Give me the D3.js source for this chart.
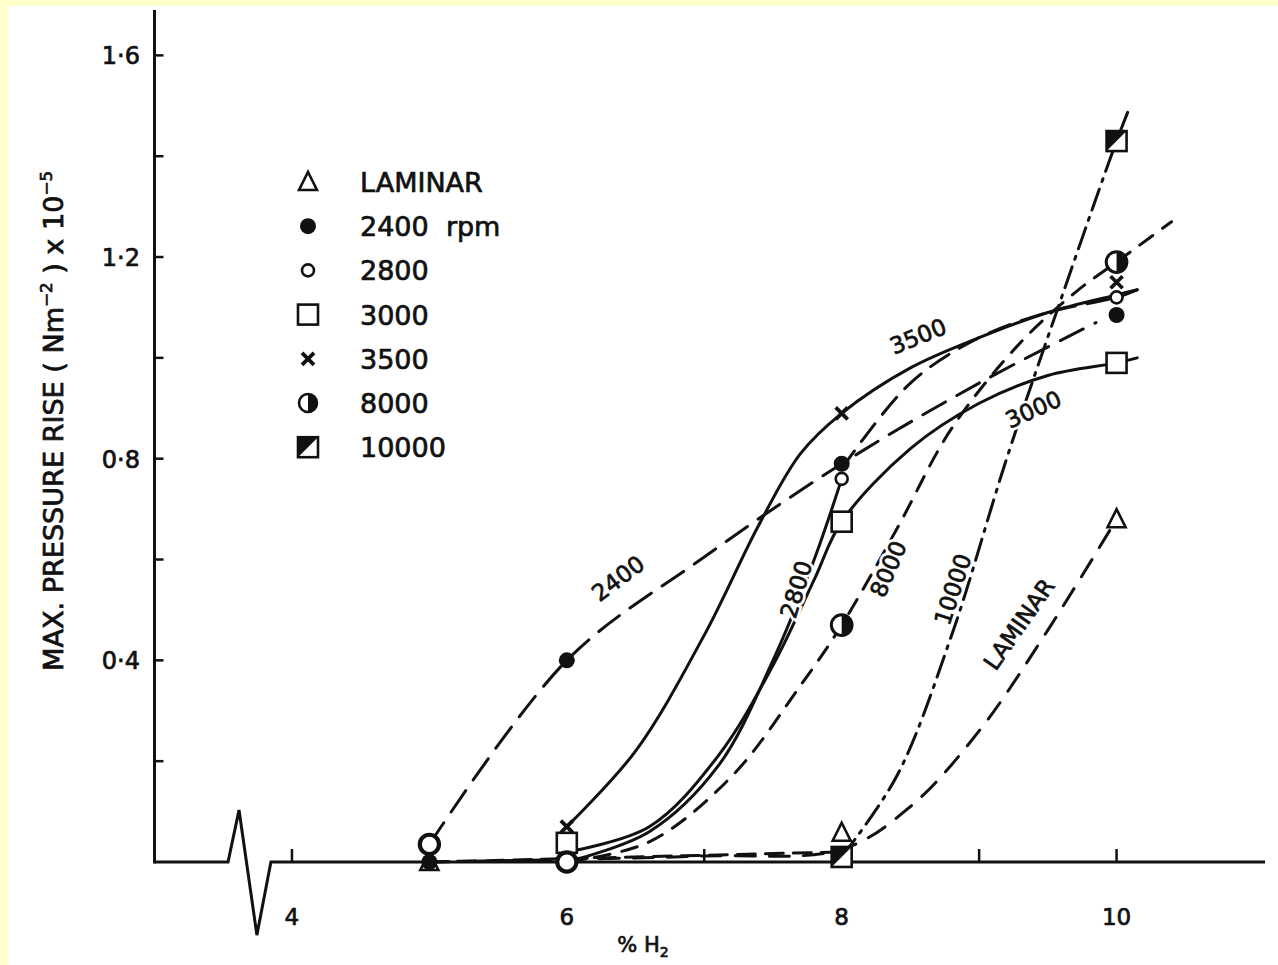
<!DOCTYPE html>
<html><head><meta charset="utf-8">
<script src="https://cdn.jsdelivr.net/npm/d3@7"></script>
<style>html,body{margin:0;padding:0;background:#fff}svg{display:block}</style>
</head><body>
<svg id="c" width="1278" height="965"></svg>
<script>
// ---- data ----
const xTicksMajor = [4, 6, 8, 10];
const xTicksMinor = [7, 9];
const yTicksMajor = [0.4, 0.8, 1.2, 1.6];
const yTicksMinor = [0.2, 0.6, 1.0, 1.4];
const yTickLabels = ["0·4", "0·8", "1·2", "1·6"];
const legendNames = ["LAMINAR", "2400  rpm", "2800", "3000", "3500", "8000", "10000"];
const legendMarkers = ["tri", "dot", "ring", "sq", "x", "half", "hsq"];

// measured points  [ %H2, pressure rise ]
const ptsLaminar = [[5, 0.0], [8, 0.058], [10, 0.68]];
const pts2400 = [[5, 0.0], [6, 0.40], [8, 0.79], [10, 1.085]];
const pts2800 = [[5, 0.035], [6, 0.0], [8, 0.76], [10, 1.12]];
const pts3000 = [[6, 0.038], [8, 0.675], [10, 0.99]];
const pts3500 = [[6, 0.07], [8, 0.89], [10, 1.15]];
const pts8000 = [[8, 0.47], [10, 1.19]];
const pts10000 = [[8, 0.01], [10, 1.43]];

// hand-drawn fitted curves
const curve2400 = [[5, 0.035], [6, 0.40], [7, 0.605], [8, 0.79], [9, 0.95], [9.85, 1.07]];
const curve2800a = [[6, 0.0], [6.6, 0.06], [7.1, 0.19], [7.5, 0.40], [7.8, 0.60], [8, 0.76]];
const curve2800b = [[8, 0.78], [8.5, 0.95], [9, 1.04], [9.5, 1.09], [10, 1.12], [10.15, 1.135]];
const curve3000 = [[6, 0.02], [6.6, 0.07], [7.1, 0.21], [7.5, 0.39], [7.8, 0.56], [8, 0.675], [8.5, 0.82], [9, 0.91], [9.5, 0.965], [10, 0.99], [10.15, 1.0]];
const curve3500 = [[6, 0.07], [6.5, 0.22], [7, 0.45], [7.4, 0.67], [7.7, 0.81], [8, 0.89], [8.5, 0.98], [9, 1.04], [9.5, 1.09], [10, 1.125], [10.15, 1.135]];
const curve8000 = [[6, 0.0], [6.6, 0.04], [7.2, 0.17], [7.7, 0.35], [8, 0.47], [8.4, 0.66], [8.8, 0.86], [9.3, 1.03], [9.7, 1.13], [10, 1.19], [10.4, 1.27]];
const curve10000 = [[8, 0.01], [8.4, 0.17], [8.8, 0.45], [9.2, 0.80], [9.6, 1.12], [10, 1.43], [10.1, 1.50]];
const curveLaminar = [[5, 0.0], [6, 0.005], [7, 0.012], [8, 0.025], [8.5, 0.11], [9, 0.26], [9.5, 0.46], [10, 0.68]];
const baseDash = [[5, 0.0], [8, 0.02]];

// curve labels  [text, x, y, angle]
const curveLabels = [
  ["2400", 6.38, 0.56, -37],
  ["3500", 8.56, 1.04, -22],
  ["3000", 9.4, 0.895, -24],
  ["2800", 7.68, 0.54, -73],
  ["8000", 8.35, 0.58, -67],
  ["10000", 8.82, 0.54, -72],
  ["LAMINAR", 9.3, 0.47, -55]
];

// ---- drawing ----
const svg = d3.select("#c");
svg.append("rect").attr("width", 1278).attr("height", 965).attr("fill", "#ffffcc");
svg.append("rect").attr("x", 8).attr("y", 6).attr("width", 1270).attr("height", 959).attr("fill", "#fff");

const x = d3.scaleLinear().domain([3, 11.08]).range([154.5, 1265]);
const y = d3.scaleLinear().domain([0, 1.69]).range([862, 10]);
const ink = "#111";
const font = "'DejaVu Sans', sans-serif";
const cond = "'DejaVu Sans Condensed','DejaVu Sans',sans-serif";

const g = svg.append("g");
function txt(sel) { return sel.attr("fill", ink).attr("stroke", ink).attr("stroke-width", 0.7); }
// axes
g.append("line").attr("x1", x(3)).attr("x2", x(3)).attr("y1", y(1.69)).attr("y2", y(0) + 1.5)
  .attr("stroke", ink).attr("stroke-width", 3);
const zig = [[3, 0], [3.535, 0], [3.615, 0.103], [3.745, -0.145], [3.847, 0], [11.08, 0]];
g.append("path").attr("d", d3.line().x(d => x(d[0])).y(d => y(d[1]))(zig))
  .attr("fill", "none").attr("stroke", ink).attr("stroke-width", 3).attr("stroke-linejoin", "miter");

yTicksMajor.concat(yTicksMinor).forEach(v => {
  g.append("line").attr("x1", x(3)).attr("x2", x(3) + 9).attr("y1", y(v)).attr("y2", y(v))
    .attr("stroke", ink).attr("stroke-width", 2.5);
});
yTicksMajor.forEach((v, i) => {
  txt(g.append("text").attr("x", 140).attr("y", y(v) + 9).attr("text-anchor", "end")
    .attr("font-family", font).attr("font-size", 24)).text(yTickLabels[i]);
});
xTicksMajor.concat(xTicksMinor).forEach(v => {
  g.append("line").attr("x1", x(v)).attr("x2", x(v)).attr("y1", y(0)).attr("y2", y(0) - 13)
    .attr("stroke", ink).attr("stroke-width", 2.5);
});
xTicksMajor.forEach(v => {
  txt(g.append("text").attr("x", x(v)).attr("y", 925).attr("text-anchor", "middle")
    .attr("font-family", font).attr("font-size", 23)).text(v);
});
// x label
const xl = txt(g.append("text").attr("x", 643).attr("y", 952).attr("text-anchor", "middle")
  .attr("font-family", font).attr("font-size", 21));
xl.append("tspan").text("% H");
xl.append("tspan").attr("dy", 5).attr("font-size", 14).text("2");
// y label
const yl = txt(g.append("text").attr("transform", "translate(63,421) rotate(-90)")
  .attr("text-anchor", "middle").attr("font-family", cond)
  .attr("font-size", 26).attr("textLength", 500).attr("lengthAdjust", "spacingAndGlyphs"));
yl.append("tspan").text("MAX. PRESSURE RISE ( Nm");
yl.append("tspan").attr("dy", -11).attr("font-size", 16).text("−2");
yl.append("tspan").attr("dy", 11).text(" ) x 10");
yl.append("tspan").attr("dy", -11).attr("font-size", 16).text("−5");

// curves
const line = d3.line().x(d => x(d[0])).y(d => y(d[1])).curve(d3.curveCatmullRom.alpha(0.5));
function drawCurve(data, dash) {
  g.append("path").attr("d", line(data)).attr("fill", "none").attr("stroke", ink)
    .attr("stroke-width", 3).attr("stroke-linecap", "round")
    .attr("stroke-dasharray", dash || null);
}
drawCurve(curve3500, null);
drawCurve(curve3000, null);
drawCurve(curve2800a, null);
drawCurve(curve2800b, "22 12");
drawCurve(curve2400, "26 13");
drawCurve(curve8000, "16 12");
drawCurve(curve10000, "22 8 3 8");
drawCurve(curveLaminar, "20 14");
drawCurve(baseDash, "18 10");

// curve labels
curveLabels.forEach(([t, cx, cy, a]) => {
  g.append("text").attr("transform", `translate(${x(cx)},${y(cy)}) rotate(${a})`)
    .attr("text-anchor", "middle").attr("dominant-baseline", "middle")
    .attr("font-family", font).attr("font-size", 23).attr("fill", "none")
    .attr("stroke", "#fff").attr("stroke-width", 6).text(t);
  txt(g.append("text").attr("transform", `translate(${x(cx)},${y(cy)}) rotate(${a})`)
    .attr("text-anchor", "middle").attr("dominant-baseline", "middle")
    .attr("font-family", font).attr("font-size", 23)).text(t);
});

// markers
function marker(sel, type, cx, cy, s) {
  s = s || 1;
  const mg = sel.append("g").attr("transform", `translate(${cx},${cy}) scale(${s})`);
  const st = {stroke: ink, "stroke-width": 2.6};
  const ap = (el, o) => { Object.entries(o).forEach(([k, v]) => el.attr(k, v)); return el; };
  if (type === "tri") ap(mg.append("path").attr("d", "M0,-10 L9,8 L-9,8 Z").attr("fill", "#fff"), st);
  if (type === "dot") mg.append("circle").attr("r", 8).attr("fill", ink);
  if (type === "ring") ap(mg.append("circle").attr("r", 6).attr("fill", "#fff"), st);
  if (type === "sq") ap(mg.append("rect").attr("x", -10).attr("y", -10).attr("width", 20).attr("height", 20).attr("fill", "#fff"), st);
  if (type === "x") {
    ap(mg.append("path").attr("d", "M-6,-6 L6,6 M6,-6 L-6,6").attr("fill", "none"), {stroke: ink, "stroke-width": 3.8});
  }
  if (type === "half") {
    ap(mg.append("circle").attr("r", 9).attr("fill", "#fff"), st);
    mg.append("path").attr("d", "M0,-9 A9,9 0 0 1 0,9 Z").attr("fill", ink);
  }
  if (type === "hsq") {
    ap(mg.append("rect").attr("x", -10).attr("y", -10).attr("width", 20).attr("height", 20).attr("fill", "#fff"), st);
    mg.append("path").attr("d", "M-10,-10 L10,-10 L-10,10 Z").attr("fill", ink);
  }
}
const ptSets = [[ptsLaminar, "tri"], [pts2400, "dot"], [pts3500, "x"], [pts3000, "sq"], [pts2800, "ring"], [pts8000, "half"], [pts10000, "hsq"]];
ptSets.forEach(([pts, type]) => pts.forEach(p => {
  let s = 1;
  if (type === "ring" && p[0] < 7) s = 1.6;
  marker(g, type, x(p[0]), y(p[1]), (type === "half" ? 1.15 : s));
}));

// legend
legendNames.forEach((n, i) => {
  const ly = 182 + i * 44.2;
  marker(g, legendMarkers[i], 308, ly, 1);
  txt(g.append("text").attr("x", 360).attr("y", ly + 10).attr("font-family", font)
    .attr("font-size", 27).attr("xml:space", "preserve")).text(n);
});
</script>
</body></html>
